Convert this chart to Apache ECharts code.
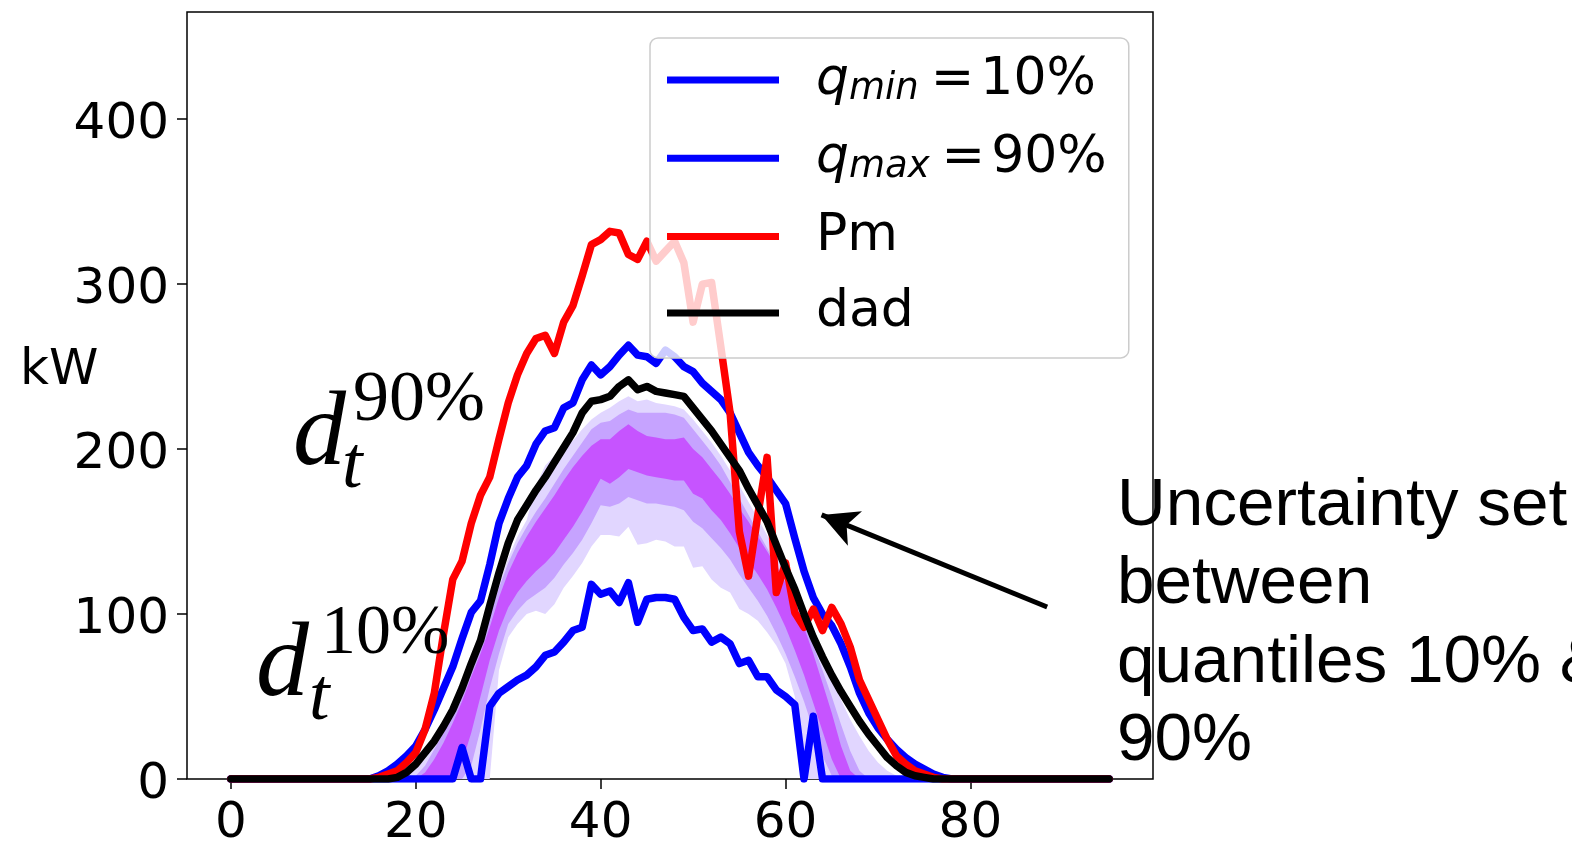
<!DOCTYPE html>
<html>
<head>
<meta charset="utf-8">
<script src="https://cdn.jsdelivr.net/npm/echarts@6/dist/echarts.min.js"></script>
<style>
  html, body { margin: 0; padding: 0; background: #fff; }
  #chart { width: 1572px; height: 843px; }
</style>
</head>
<body>
<div id="chart"></div>
<script>
// time steps 0..95 (quarter-hours)
const steps = Array.from({ length: 96 }, (_, i) => i);

// quantile forecasts
const qMin = [
  0,0,0,0,0,0,0,0,0,0,0,0,0,0,0,0,0,0,0,0,0,0,0,0,0,
  19,0,0,44,52,56,60,63,68,75,77,83,90,92,118,112,114,107,119,95,109,110,110,109,98,
  90,91,83,86,82,70,72,62,62,54,50,45,0,38,
  0,0,0,0,0,0,0,0,0,0,0,0,0,0,0,0,0,0,0,0,0,0,0,0,0,0,0,0,0,0,0,0
];
const qMax = [
  0,0,0,0,0,0,0,0,0,0,0,0,0,0,0,0,
  2,5,9,14,20,30,42,55,68,85,101,108,130,155,170,183,190,203,211,213,225,228,242,251,245,
  250,257,263,257,256,252,260,256,250,247,240,235,230,222,210,198,190,183,175,167,146,126,110,100,
  93,82,68,52,40,31,24,18,13,9,6,3,1,
  0,0,0,0,0,0,0,0,0,0,0,0,0,0,0,0,0,0
];
// measured production
const pm = [
  0,0,0,0,0,0,0,0,0,0,0,0,0,0,0,0,
  1,3,5,10,16,30,52,88,121,132,155,172,183,206,228,245,258,267,269,258,277,287,305,324,327,
  332,331,318,315,326,314,320,326,313,277,300,301,262,222,150,123,160,195,113,131,101,92,103,90,
  104,94,80,60,48,36,24,14,9,5,3,1,
  0,0,0,0,0,0,0,0,0,0,0,0,0,0,0,0,0,0,0
];
// day-ahead decision
const dad = [
  0,0,0,0,0,0,0,0,0,0,0,0,0,0,0,0,0,0,
  1,4,9,16,23,32,42,55,70,84,105,125,143,157,166,175,183,192,201,210,222,229,230,232,238,242,
  236,238,235,234,233,232,225,218,211,203,195,187,176,166,156,142,128,115,100,86,74,63,53,44,35,
  27,20,13,8,4,2,1,
  0,0,0,0,0,0,0,0,0,0,0,0,0,0,0,0,0,0,0,0
];

// scenario fan: outer, middle and inner bands (low / high edges)
const outerLow = [
  0,0,0,0,0,0,0,0,0,0,0,0,0,0,0,0,0,0,0,0,0,0,0,0,0,0,0,0,0,
  66,86,94,100,102,100,106,116,123,131,141,148,148,147,153,142,143,145,144,141,141,
  128,129,121,116,113,103,100,96,89,81,70,50,
  0,0,0,0,0,0,0,0,0,0,0,0,0,0,0,0,0,0,0,0,0,0,0,0,0,0,0,0,0,0,0,0,0,0
];
const outerHigh = [
  0,0,0,0,0,0,0,0,0,0,0,0,0,0,0,0,0,0,0,
  2,6,12,20,30,40,52,66,80,98,118,134,147,157,178,190,196,201,205,212,218,222,225,229,232,
  229,230,228,227,226,224,218,211,204,196,187,178,168,158,148,137,125,113,100,87,74,61,48,36,26,
  17,10,5,2,
  0,0,0,0,0,0,0,0,0,0,0,0,0,0,0,0,0,0,0,0,0,0,0
];
const midLow = [
  0,0,0,0,0,0,0,0,0,0,0,0,0,0,0,0,0,0,0,0,0,0,0,0,0,0,
  8,30,55,76,94,102,108,112,116,122,130,137,145,155,166,165,167,171,169,167,167,166,165,163,
  156,152,146,140,133,124,116,108,99,88,76,62,47,30,14,2,
  0,0,0,0,0,0,0,0,0,0,0,0,0,0,0,0,0,0,0,0,0,0,0,0,0,0,0,0,0,0
];
const midHigh = [
  0,0,0,0,0,0,0,0,0,0,0,0,0,0,0,0,0,0,0,0,
  2,8,18,28,40,53,68,82,98,116,131,143,153,162,170,179,188,196,204,212,216,217,221,224,
  222,222,222,222,221,219,212,205,198,190,180,170,160,150,140,130,120,108,95,81,66,50,33,17,5,
  0,0,0,0,0,0,0,0,0,0,0,0,0,0,0,0,0,0,0,0,0,0,0,0,0,0,0
];
const innerLow = [
  0,0,0,0,0,0,0,0,0,0,0,0,0,0,0,0,0,0,0,0,0,0,0,0,0,
  10,28,50,72,90,104,113,120,126,131,137,145,153,162,172,182,179,183,188,186,184,183,182,181,181,
  173,170,163,157,149,140,132,124,115,104,92,78,63,46,29,12,
  0,0,0,0,0,0,0,0,0,0,0,0,0,0,0,0,0,0,0,0,0,0,0,0,0,0,0,0,0,0
];
const innerHigh = [
  0,0,0,0,0,0,0,0,0,0,0,0,0,0,0,0,0,0,0,0,0,
  4,12,22,34,47,62,76,92,110,125,137,147,156,164,172,181,189,196,202,206,206,211,215,211,
  208,207,206,206,207,200,195,188,181,173,164,156,147,138,129,119,106,92,76,58,40,20,5,
  0,0,0,0,0,0,0,0,0,0,0,0,0,0,0,0,0,0,0,0,0,0,0,0,0,0,0,0
];

const xTicks = [0, 20, 40, 60, 80];
const yTicks = [0, 100, 200, 300, 400];

const pairs = arr => steps.map(i => [i, arr[i]]);

// filled band between two edges, drawn as one polygon through the axis scales
function bandSeries(lo, hi, color) {
  return {
    type: 'custom', silent: true, z: 1, clip: true,
    data: [[0, 0]],
    renderItem: function (params, api) {
      const pts = [];
      for (let i = 0; i < steps.length; i++) pts.push(api.coord([steps[i], hi[i]]));
      for (let i = steps.length - 1; i >= 0; i--) pts.push(api.coord([steps[i], lo[i]]));
      return { type: 'polygon', shape: { points: pts }, style: { fill: color, stroke: null } };
    }
  };
}

function lineSeries(name, arr, color, extra) {
  return Object.assign({
    name: name, type: 'line', data: pairs(arr), symbol: 'none',
    lineStyle: { color: color, width: 7.5, join: 'round', cap: 'round' },
    itemStyle: { color: color }, z: 3
  }, extra || {});
}

const tickFont = { fontFamily: 'DejaVu Sans', fontSize: 50, color: '#000' };

const chart = echarts.init(document.getElementById('chart'), null, { renderer: 'canvas' });
chart.setOption({
  animation: false,
  backgroundColor: '#ffffff',
  grid: { left: 187, right: 419, top: 12, bottom: 64, show: true, containLabel: false,
          outerBoundsMode: 'none',
          borderColor: '#000', borderWidth: 1.5, backgroundColor: 'transparent' },
  xAxis: {
    type: 'value', min: -4.75, max: 99.75,
    axisLine: { show: false, onZero: false }, splitLine: { show: false },
    axisTick: { show: true, length: 10, lineStyle: { color: '#000', width: 1.5 }, customValues: xTicks },
    axisLabel: Object.assign({ customValues: xTicks, margin: 20 }, tickFont)
  },
  yAxis: {
    type: 'value', min: 0, max: 465,
    axisLine: { show: false, onZero: false }, splitLine: { show: false },
    axisTick: { show: true, length: 10, lineStyle: { color: '#000', width: 1.5 }, customValues: yTicks },
    axisLabel: Object.assign({
      customValues: yTicks, margin: 18,
      formatter: '{v|{value}}',
      rich: { v: { fontFamily: 'DejaVu Sans', fontSize: 50, color: '#000', padding: [12, 0, 0, 0] } }
    }, tickFont)
  },
  legend: {
    orient: 'vertical', left: 650, top: 38,
    data: ['qmin', 'qmax', 'Pm', 'dad'],
    icon: 'rect', itemWidth: 112, itemHeight: 7, itemGap: 24.3,
    padding: [16, 22, 19, 17],
    backgroundColor: 'rgba(255,255,255,0.8)',
    borderColor: '#cccccc', borderWidth: 1.5, borderRadius: 8,
    selectedMode: false,
    formatter: function (name) {
      if (name === 'qmin') return '{q|q}{sub|min}{eq|=}{n|10%}';
      if (name === 'qmax') return '{q|q}{sub|max}{eq|=}{n|90%}';
      return '{n|' + name + '}';
    },
    textStyle: {
      padding: [0, 0, 0, 32],
      rich: {
        q: { fontFamily: 'DejaVu Sans', fontStyle: 'italic', fontSize: 52, lineHeight: 56, color: '#000' },
        sub: { fontFamily: 'DejaVu Sans', fontStyle: 'italic', fontSize: 37, lineHeight: 30,
               verticalAlign: 'bottom', color: '#000' },
        eq: { fontFamily: 'DejaVu Sans', fontSize: 52, lineHeight: 56, color: '#000', padding: [0, 6, 0, 12] },
        n: { fontFamily: 'DejaVu Sans', fontSize: 52, lineHeight: 56, color: '#000' }
      }
    }
  },
  graphic: [
    { type: 'text', left: 20, top: 346, z: 10,
      style: { text: 'kW', fontFamily: 'DejaVu Sans', fontSize: 50, fill: '#000' } },
    // d_t^{90%}
    { type: 'text', x: 293, y: 436, z: 10,
      style: { text: 'd', fontFamily: 'Liberation Serif', fontStyle: 'italic', fontSize: 106,
               fill: '#000', verticalAlign: 'middle' } },
    { type: 'text', x: 353, y: 401, z: 10,
      style: { text: '90%', fontFamily: 'Liberation Serif', fontSize: 72,
               fill: '#000', verticalAlign: 'middle' } },
    { type: 'text', x: 342, y: 468, z: 10,
      style: { text: 't', fontFamily: 'Liberation Serif', fontStyle: 'italic', fontSize: 74,
               fill: '#000', verticalAlign: 'middle' } },
    // d_t^{10%}
    { type: 'text', x: 256, y: 667, z: 10,
      style: { text: 'd', fontFamily: 'Liberation Serif', fontStyle: 'italic', fontSize: 106,
               fill: '#000', verticalAlign: 'middle' } },
    { type: 'text', x: 321, y: 635, z: 10,
      style: { text: '10%', fontFamily: 'Liberation Serif', fontSize: 70,
               fill: '#000', verticalAlign: 'middle' } },
    { type: 'text', x: 309, y: 700, z: 10,
      style: { text: 't', fontFamily: 'Liberation Serif', fontStyle: 'italic', fontSize: 74,
               fill: '#000', verticalAlign: 'middle' } },
    // explanatory note
    { type: 'text', x: 1117, y: 467, z: 10,
      style: { text: 'Uncertainty set\nbetween\nquantiles 10% &\n90%', fontFamily: 'Liberation Sans',
               fontSize: 67.5, lineHeight: 78.5, fill: '#000' } }
  ],
  series: [
    bandSeries(outerLow, outerHigh, '#e1d6ff'),
    bandSeries(midLow, midHigh, '#c6a3ff'),
    bandSeries(innerLow, innerHigh, '#c654ff'),
    lineSeries('qmin', qMin, '#0000ff'),
    lineSeries('qmax', qMax, '#0000ff'),
    lineSeries('Pm', pm, '#ff0000'),
    lineSeries('dad', dad, '#000000', {
      markLine: {
        silent: true, animation: false,
        symbol: ['none', 'arrow'], symbolSize: [28, 36],
        label: { show: false },
        lineStyle: { color: '#000', width: 5, type: 'solid' },
        data: [[{ coord: [88.3, 104.3] }, { coord: [63.9, 160.1] }]]
      }
    })
  ]
});
</script>
</body>
</html>
